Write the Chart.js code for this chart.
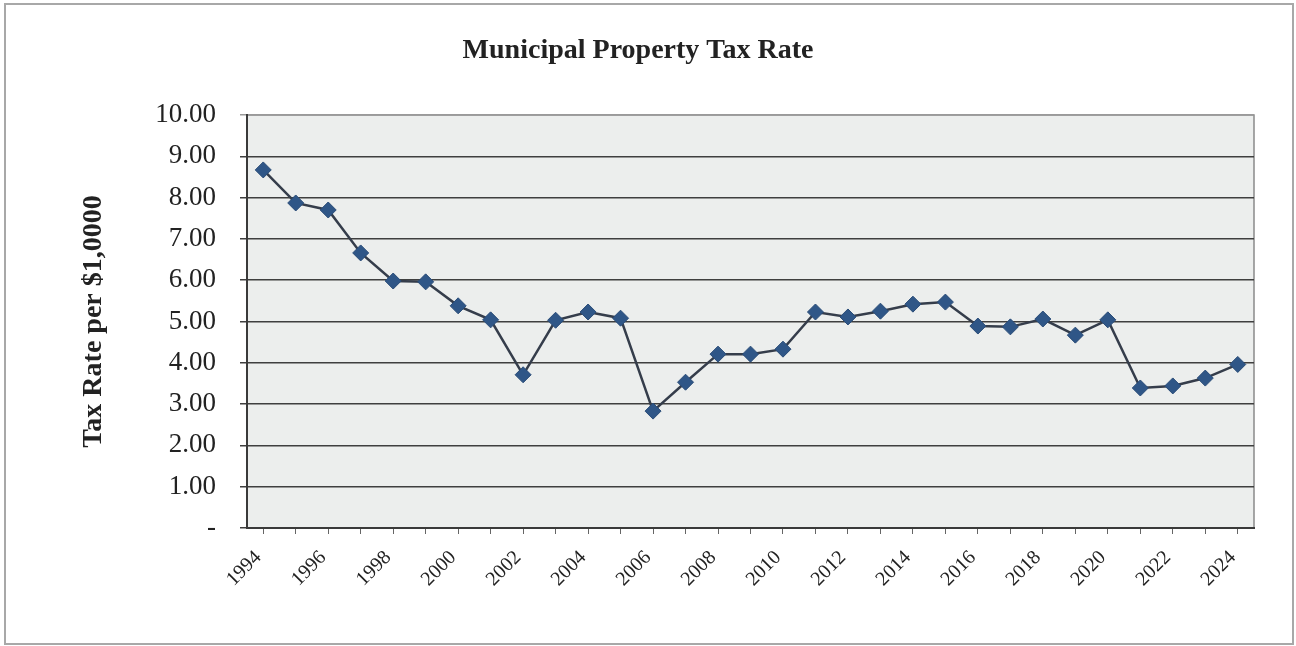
<!DOCTYPE html>
<html>
<head>
<meta charset="utf-8">
<script src="https://cdn.jsdelivr.net/npm/chart.js@4"></script>
<style>
  html, body { margin: 0; padding: 0; background: #fff; }
  #wrap { width: 1296px; height: 646px; position: relative; }
</style>
</head>
<body>
<div id="wrap"><canvas id="chart" width="1296" height="646"></canvas></div>
<script>
const years = ['1994', '1995', '1996', '1997', '1998', '1999', '2000', '2001', '2002', '2003',
  '2004', '2005', '2006', '2007', '2008', '2009', '2010', '2011', '2012', '2013',
  '2014', '2015', '2016', '2017', '2018', '2019', '2020', '2021', '2022', '2023', '2024'];

const taxRate = [8.67, 7.87, 7.70, 6.66, 5.98, 5.96, 5.38, 5.04, 3.71, 5.03,
  5.23, 5.08, 2.83, 3.53, 4.21, 4.21, 4.33, 5.23, 5.11, 5.25,
  5.42, 5.47, 4.89, 4.87, 5.06, 4.67, 5.04, 3.39, 3.44, 3.63, 3.96];

const chartTitle = 'Municipal Property Tax Rate';
const yAxisTitle = 'Tax Rate per $1,0000';

const serif = "'Liberation Serif', 'Times New Roman', serif";

// frame around the whole picture + grey plot background
const backdrop = {
  id: 'backdrop',
  beforeDraw(chart) {
    const { ctx, chartArea: a } = chart;
    ctx.save();
    ctx.strokeStyle = '#a8a8a8';
    ctx.lineWidth = 2;
    ctx.strokeRect(5, 4, 1288, 640);
    ctx.fillStyle = '#eceeed';
    ctx.fillRect(a.left, a.top, a.right - a.left, a.bottom - a.top);
    ctx.strokeStyle = '#8a8a8a';
    ctx.lineWidth = 1.5;
    ctx.strokeRect(a.left, a.top, a.right - a.left, a.bottom - a.top);
    ctx.restore();
  }
};

const ctx = document.getElementById('chart').getContext('2d');
new Chart(ctx, {
  type: 'line',
  data: {
    labels: years,
    datasets: [{
      data: taxRate,
      borderColor: '#353d4b',
      borderWidth: 2.5,
      tension: 0,
      pointStyle: 'rectRot',
      pointRadius: 8,
      pointBackgroundColor: '#2f5687',
      pointBorderColor: '#2a4c78',
      pointBorderWidth: 1
    }]
  },
  options: {
    responsive: false,
    animation: false,
    layout: { padding: { left: 22, right: 42, top: 0, bottom: 0 } },
    plugins: {
      legend: { display: false },
      tooltip: { enabled: false },
      title: {
        display: true,
        text: chartTitle,
        color: '#222',
        font: { family: serif, size: 28, weight: 'bold', lineHeight: 1.2 },
        padding: { top: 34, bottom: 47.4 }
      }
    },
    scales: {
      x: {
        offset: true,
        afterFit(scale) { scale.height = 118; },
        border: { color: '#3a3a3a', width: 2 },
        grid: { drawOnChartArea: false, drawTicks: true, tickLength: 6, color: '#666' },
        ticks: {
          autoSkip: false,
          maxRotation: 45,
          minRotation: 45,
          padding: 12,
          labelOffset: -5,
          color: '#222',
          font: { family: serif, size: 20 },
          callback(value, index) {
            return index % 2 === 0 ? years[index] : '';
          }
        }
      },
      y: {
        min: 0,
        max: 10,
        afterFit(scale) { scale.width = 225; },
        border: { color: '#3a3a3a', width: 2 },
        grid: {
          color: (c) => (c.tick && c.tick.value === 10 ? '#9a9a9a' : '#3f3f3f'),
          lineWidth: 1.5,
          tickLength: 7
        },
        ticks: {
          stepSize: 1,
          padding: 24,
          color: '#222',
          font: { family: serif, size: 27 },
          callback(value) {
            return value === 0 ? '-' : value.toFixed(2);
          }
        },
        title: {
          display: true,
          text: yAxisTitle,
          color: '#222',
          font: { family: serif, size: 28, weight: 'bold', lineHeight: 1.2 },
          padding: { top: 55, bottom: 0 }
        }
      }
    }
  },
  plugins: [backdrop]
});
</script>
</body>
</html>
